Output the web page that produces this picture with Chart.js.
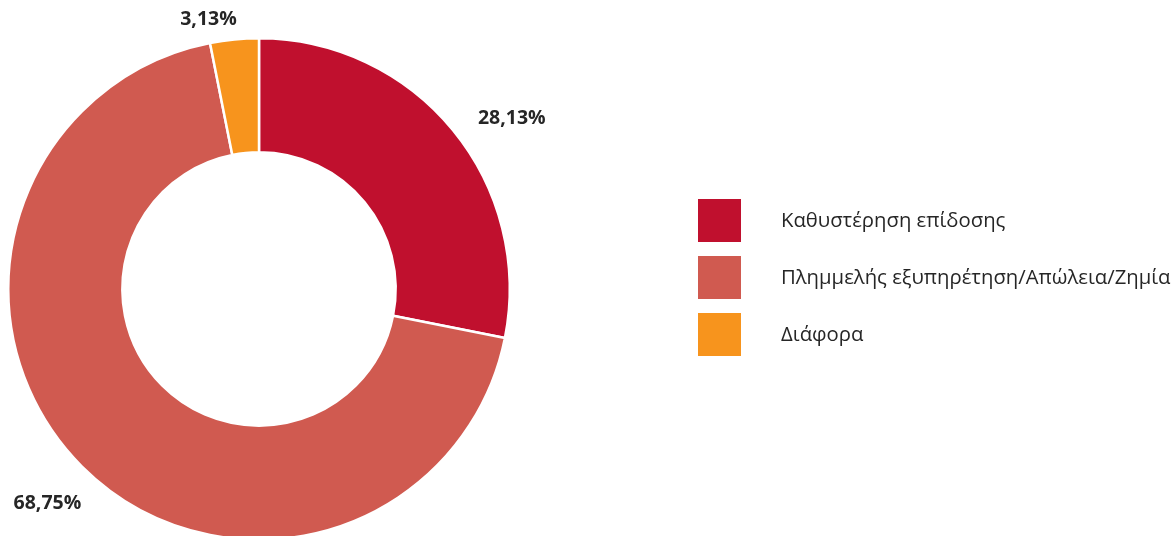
<!DOCTYPE html>
<html>
<head>
<meta charset="utf-8">
<script src="https://cdn.jsdelivr.net/npm/chart.js@4/dist/chart.umd.min.js"></script>
<style>
html,body{margin:0;padding:0;background:#fff;overflow:hidden;}
#wrap{width:1175px;height:560px;position:relative;}
</style>
</head>
<body>
<div id="wrap"><canvas id="c" width="1175" height="560"></canvas></div>
<script>
const categories = ["Καθυστέρηση επίδοσης", "Πληµµελής εξυπηρέτηση/Απώλεια/Ζηµία", "Διάφορα"];
const values = [28.13, 68.75, 3.13];
const valueLabels = ["28,13%", "68,75%", "3,13%"];
const colors = ["#C0102E", "#D05A50", "#F7941D"];
// label nudges relative to the default outside anchor (pixels)
const labelNudge = [[28, 14], [-6, 9], [-22, 20]];

const labelPlugin = {
  id: 'outLabels',
  afterDatasetsDraw(chart) {
    const ctx = chart.ctx;
    const meta = chart.getDatasetMeta(0);
    ctx.save();
    ctx.font = "bold 19.5px 'Open Sans'";
    ctx.fillStyle = "#262626";
    ctx.textAlign = "center";
    ctx.textBaseline = "middle";
    meta.data.forEach((arc, i) => {
      const p = arc.getProps(['x','y','startAngle','endAngle','outerRadius'], true);
      const mid = (p.startAngle + p.endAngle) / 2;
      const r = p.outerRadius + 40;
      const x = p.x + Math.cos(mid) * r + labelNudge[i][0];
      const y = p.y + Math.sin(mid) * r + labelNudge[i][1];
      ctx.fillText(valueLabels[i], x, y);
    });
    ctx.restore();
  }
};

const legendPlugin = {
  id: 'sideLegend',
  afterDraw(chart) {
    const ctx = chart.ctx;
    ctx.save();
    ctx.font = "20.3px 'Open Sans'";
    ctx.textBaseline = "middle";
    ctx.textAlign = "left";
    categories.forEach((c, i) => {
      const top = 199 + i * 57;
      ctx.fillStyle = colors[i];
      ctx.fillRect(698, top, 43, 43);
      ctx.fillStyle = "#262626";
      ctx.fillText(c, 781, top + 22);
    });
    ctx.restore();
  }
};

new Chart(document.getElementById('c'), {
  type: 'doughnut',
  data: {
    labels: categories,
    datasets: [{
      data: values,
      backgroundColor: colors,
      borderColor: "#ffffff",
      borderWidth: 2.5
    }]
  },
  options: {
    responsive: false,
    animation: false,
    devicePixelRatio: 1,
    cutout: '54.5%',
    layout: { padding: { left: 7, top: 37, right: 664, bottom: 19 } },
    plugins: { legend: { display: false }, tooltip: { enabled: false } }
  },
  plugins: [labelPlugin, legendPlugin]
});
</script>
</body>
</html>
